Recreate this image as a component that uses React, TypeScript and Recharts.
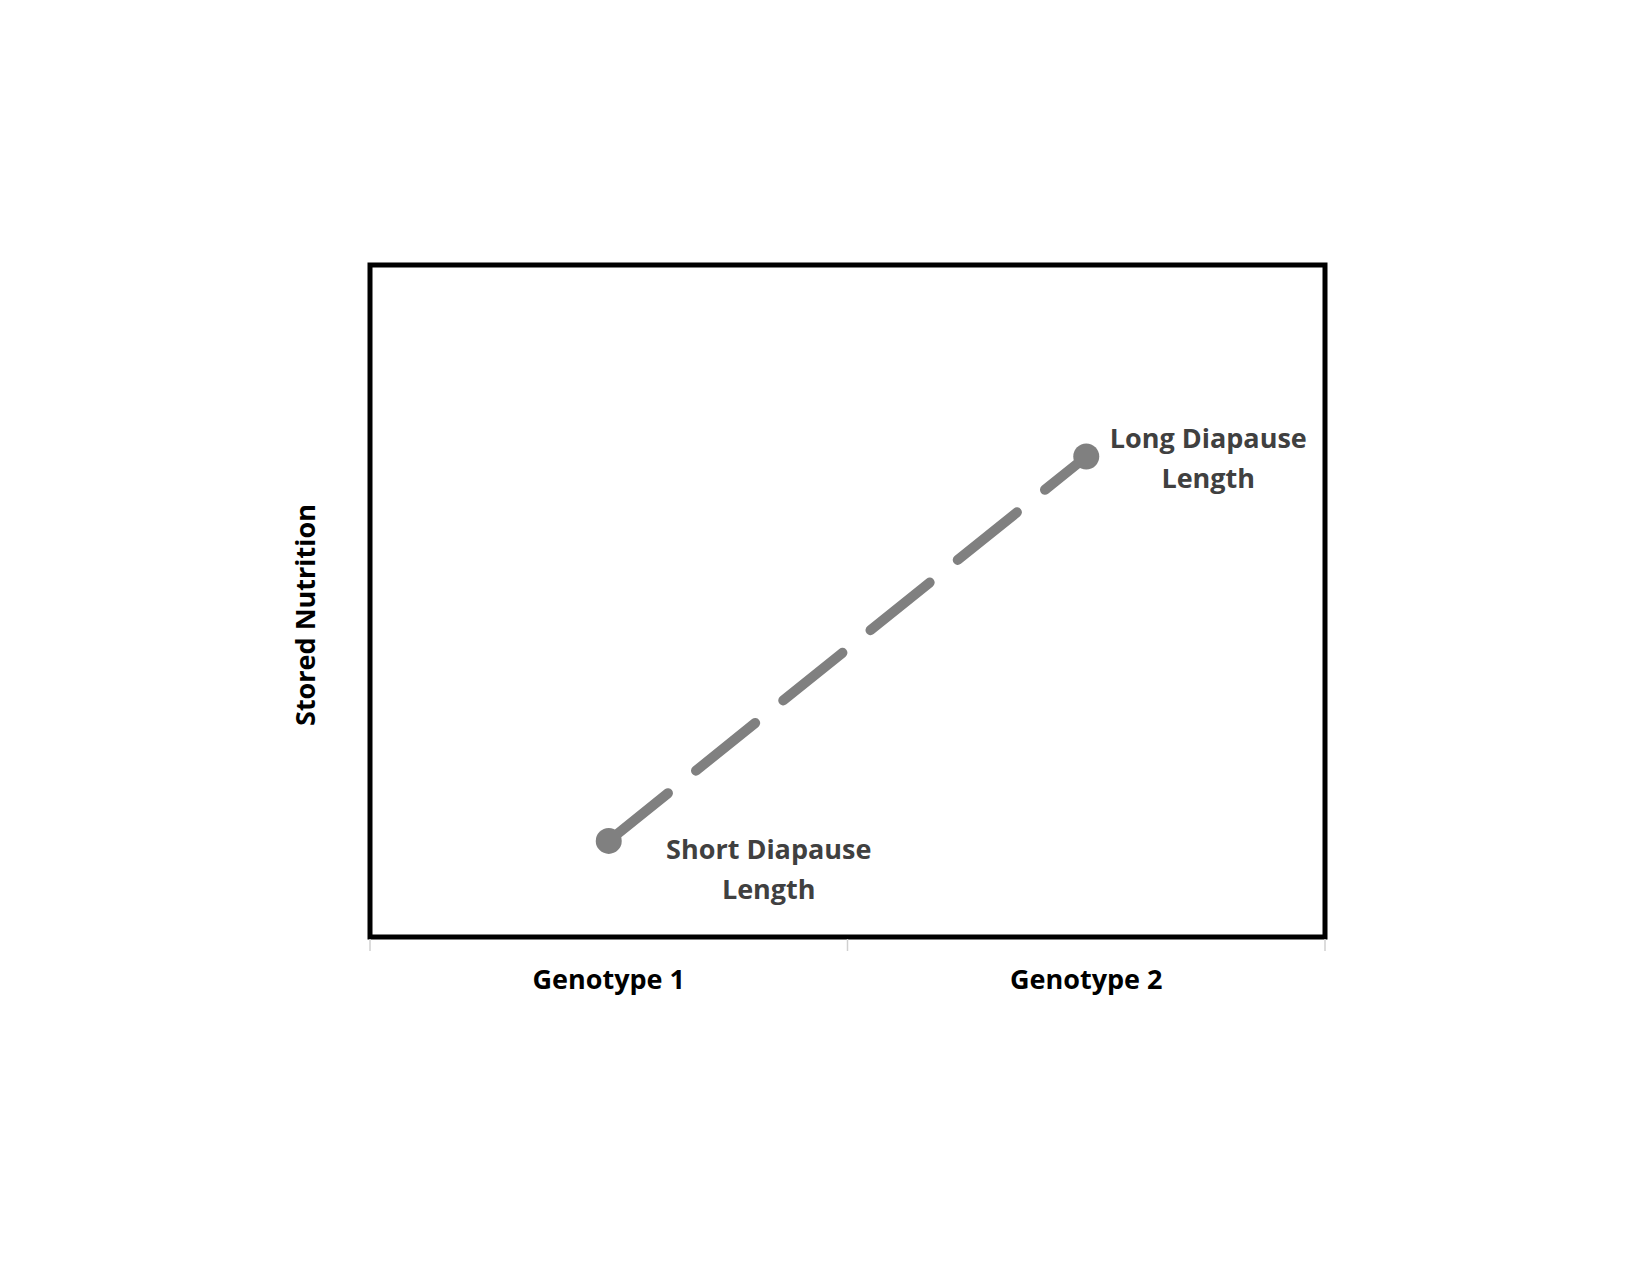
import { LineChart, Line, XAxis, YAxis, ReferenceArea, LabelList } from "recharts"

const genotypes = ["Genotype 1", "Genotype 2"]
const xPos = [0.5, 1.5]
const storedNutrition = [0.143, 0.715]
const pointLabels = [["Short Diapause", "Length"], ["Long Diapause", "Length"]]
const xTicks = [0, 0.5, 1, 1.5, 2]

const data = genotypes.map((g, i) => ({ name: g, x: xPos[i], y: storedNutrition[i] }))
const FONT = "'Open Sans', sans-serif"

function XTick(props: any) {
  const { x, y, payload } = props
  const v = payload.value
  if (Number.isInteger(v)) {
    return <line x1={x} x2={x} y1={y - 6} y2={y + 6} stroke="#d0d0d0" strokeWidth={1.5} />
  }
  const i = xPos.indexOf(v)
  return (
    <text x={x} y={y + 44} textAnchor="middle" fontFamily={FONT} fontWeight={700} fontSize={27} fill="#000">
      {genotypes[i]}
    </text>
  )
}

function PointLabel(props: any) {
  const { x, y, index } = props
  const lines = pointLabels[index]
  const cx = index === 0 ? x + 160 : x + 122
  const cy = index === 0 ? y + 18 : y - 9
  return (
    <text x={cx} y={cy} textAnchor="middle" fontFamily={FONT} fontWeight={700} fontSize={27} fill="#404040">
      <tspan x={cx} dy={0}>{lines[0]}</tspan>
      <tspan x={cx} dy={40}>{lines[1]}</tspan>
    </text>
  )
}

function YLabel(props: any) {
  const { viewBox } = props
  const cy = viewBox.y + viewBox.height / 2 + 14
  return (
    <text x={315} y={cy} transform={`rotate(-90 315 ${cy})`} textAnchor="middle" fontFamily={FONT} fontWeight={700} fontSize={27} fill="#000">
      Stored Nutrition
    </text>
  )
}

export default function App() {
  return (
    <div style={{ position: "absolute", left: 0, top: 0, background: "#fff" }}>
      <LineChart width={1650} height={1275} data={data} margin={{ top: 265, right: 325, left: 0, bottom: 308 }}>
        <XAxis dataKey="x" type="number" domain={[0, 2]} ticks={xTicks} tick={<XTick />} tickLine={false} axisLine={false} interval={0} />
        <YAxis type="number" domain={[0, 1]} width={370} tick={false} tickLine={false} axisLine={false} label={<YLabel />} />
        <ReferenceArea x1={0} x2={2} y1={0} y2={1} fill="none" stroke="#000" strokeWidth={5} ifOverflow="visible" />
        <Line
          dataKey="y"
          stroke="#808080"
          strokeWidth={10}
          strokeDasharray="76 36"
          strokeLinecap="round"
          dot={{ r: 13, fill: "#808080", stroke: "none" }}
          isAnimationActive={false}
        >
          <LabelList content={<PointLabel />} />
        </Line>
      </LineChart>
    </div>
  )
}
